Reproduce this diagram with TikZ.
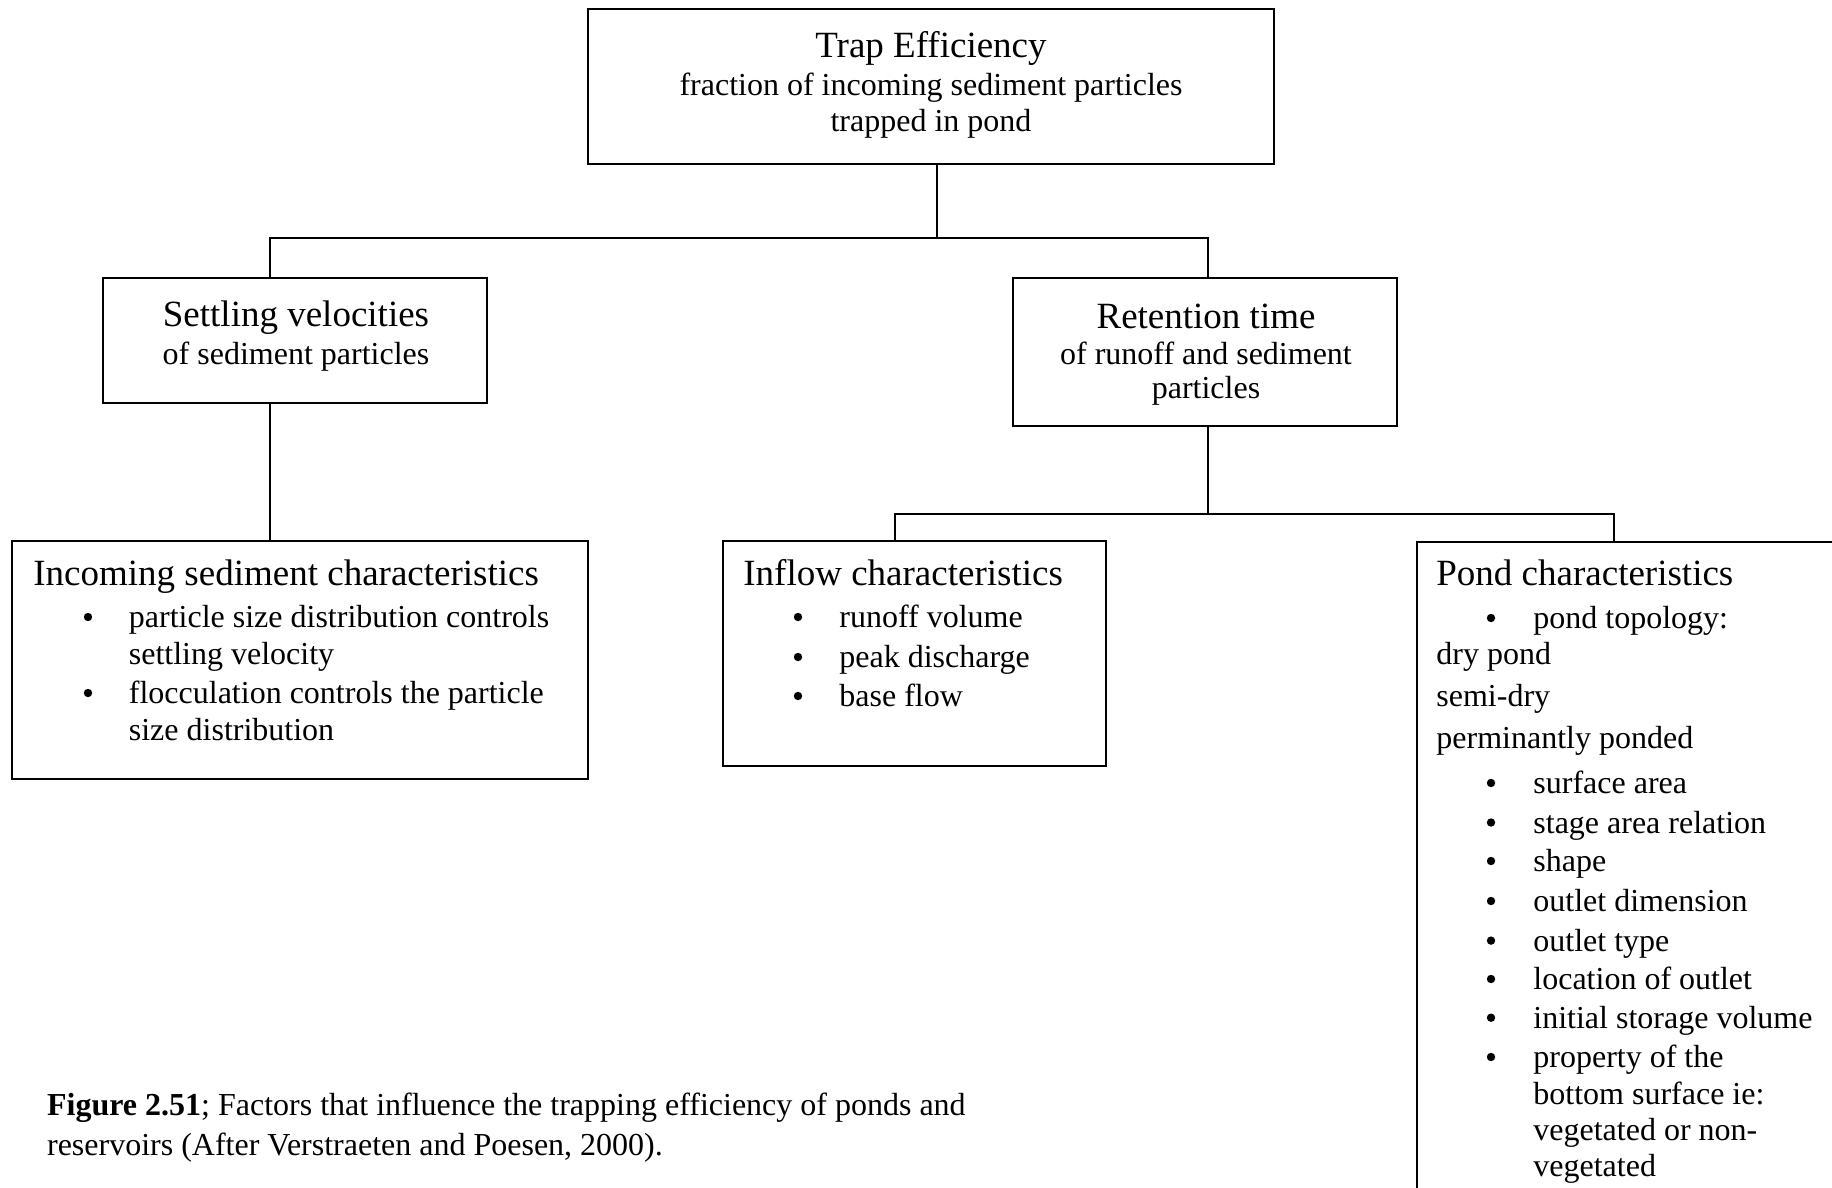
\documentclass[tikz,border=0pt]{standalone}
\usepackage{fontspec}
\setmainfont{Liberation Serif}
\begin{document}
\begin{tikzpicture}[x=0.5pt,y=-0.5pt,
  box/.style={draw, line width=1pt, inner sep=0pt},
  ttl/.style={inner sep=0pt, font=\fontsize{18.5}{22}\selectfont},
  txt/.style={inner sep=0pt, font=\fontsize{16}{19}\selectfont},
  lt/.style={txt, anchor=mid west},
  lttl/.style={ttl, anchor=mid west},
  bul/.style={circle, fill=black, inner sep=0pt, minimum size=4.2pt},
  conn/.style={line width=1pt}]
\clip (0,0) rectangle (1832,1188);
\fill[white] (0,0) rectangle (1832,1188);
% boxes
\node[box, minimum width=343pt, minimum height=77.5pt] (top) at (931,86.5) {};
\node[box, minimum width=192pt, minimum height=62.5pt] (set) at (295,340.5) {};
\node[box, minimum width=192pt, minimum height=74pt] (ret) at (1205,352) {};
\node[box, minimum width=288pt, minimum height=119pt] (inc) at (300,660) {};
\node[box, minimum width=191.5pt, minimum height=112.5pt] (inf) at (914.5,653.5) {};
\node[box, anchor=north west, minimum width=230pt, minimum height=350pt] (pond) at (1416,541) {};
\begin{scope}[yshift=-3pt]
% top texts
\node[ttl] (t1) at (931,42) {Trap Efficiency};
\node[txt] (t2) at (931,82) {fraction of incoming sediment particles};
\node[txt] (t3) at (931,118) {trapped in pond};
% settling
\node[ttl] (s1) at (296,312) {Settling velocities};
\node[txt] (s2) at (296,350.5) {of sediment particles};
% retention
\node[ttl] (r1) at (1206,310) {Retention time};
\node[txt] (r2) at (1206,347) {of runoff and sediment};
\node[txt] (r3) at (1206,385) {particles};
% incoming
\node[lttl] (i0) at (33,575) {Incoming sediment characteristics};
\node[bul] (ib1) at (88,611) {};
\node[lt] (i1) at (128.5,617) {particle size distribution controls};
\node[lt] (i2) at (128.5,654) {settling velocity};
\node[bul] (ib2) at (88,687) {};
\node[lt] (i3) at (128.5,693) {flocculation controls the particle};
\node[lt] (i4) at (128.5,730) {size distribution};
% inflow
\node[lttl] (f0) at (743,575) {Inflow characteristics};
\node[bul] (fb1) at (798,611) {};
\node[lt] (f1) at (839,617) {runoff volume};
\node[bul] (fb2) at (798,651) {};
\node[lt] (f2) at (839,657) {peak discharge};
\node[bul] (fb3) at (798,690) {};
\node[lt] (f3) at (839,696) {base flow};
% pond
\node[lttl] (p0) at (1436,575) {Pond characteristics};
\node[bul] (pb1) at (1491,612) {};
\node[lt] (p1) at (1533,618) {pond topology:};
\node[lt] (p2) at (1436,654) {dry pond};
\node[lt] (p3) at (1436,696) {semi-dry};
\node[lt] (p4) at (1436,738) {perminantly ponded};
\node[bul] (pb5) at (1491,777) {};
\node[lt] (p5) at (1533,783) {surface area};
\node[bul] (pb6) at (1491,816.5) {};
\node[lt] (p6) at (1533,822.5) {stage area relation};
\node[bul] (pb7) at (1491,855) {};
\node[lt] (p7) at (1533,861) {shape};
\node[bul] (pb8) at (1491,895) {};
\node[lt] (p8) at (1533,901) {outlet dimension};
\node[bul] (pb9) at (1491,934.6) {};
\node[lt] (p9) at (1533,940.6) {outlet type};
\node[bul] (pb10) at (1491,973) {};
\node[lt] (p10) at (1533,979) {location of outlet};
\node[bul] (pb11) at (1491,1011.7) {};
\node[lt] (p11) at (1533,1017.7) {initial storage volume};
\node[bul] (pb12) at (1491,1051) {};
\node[lt] (p12) at (1533,1057) {property of the};
\node[lt] (p13) at (1533,1093.6) {bottom surface ie:};
\node[lt] (p14) at (1533,1130) {vegetated or non-};
\node[lt] (p15) at (1533,1166) {vegetated};
% caption
\node[lt] (c1) at (46.7,1105) {\textbf{Figure 2.51}; Factors that influence the trapping efficiency of ponds and};
\node[lt] (c2) at (46.7,1145) {reservoirs (After Verstraeten and Poesen, 2000).};
\end{scope}
% connectors
\coordinate (aT) at (937,238);
\coordinate (aS) at (270,238);
\coordinate (aR) at (1208,238);
\draw[conn] (top.south -| aT) -- (aT);
\draw[conn] (set.north -| aS) -- (aS) -- (aR) -- (ret.north -| aR);
\draw[conn] (set.south -| aS) -- (inc.north -| aS);
\coordinate (bR) at (1208,514);
\coordinate (bI) at (895,514);
\coordinate (bP) at (1614,514);
\draw[conn] (ret.south -| bR) -- (bR);
\draw[conn] (inf.north -| bI) -- (bI) -- (bP) -- (pond.north -| bP);
\end{tikzpicture}
\end{document}
